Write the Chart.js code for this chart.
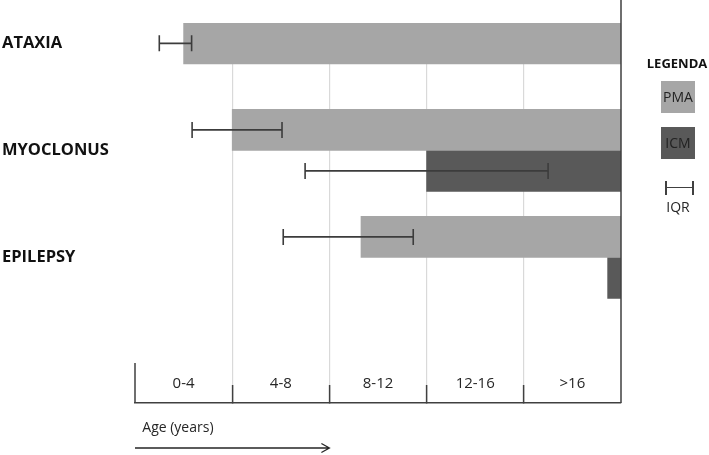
<!doctype html>
<html lang="en">
<head>
<meta charset="utf-8">
<title>Age of onset</title>
<script src="https://cdn.jsdelivr.net/npm/chart.js@4.4.1/dist/chart.umd.min.js"></script>
<style>
  body { margin: 0; background: #fff; font-family: "Open Sans", sans-serif; }
  .wrap { position: relative; width: 709px; height: 455px; overflow: hidden; }
  .lg-title { position: absolute; left: 637px; top: 54px; width: 80px; text-align: center;
              font-weight: bold; font-size: 13px; line-height: 18px; color: #111; }
  #legend-items { position: absolute; left: 661px; top: 81px; display: flex; flex-direction: column; gap: 14px; }
  .lg-box { width: 34px; height: 32px; line-height: 32px; text-align: center; font-size: 14px; color: #222; }
  .lg-iqr { position: absolute; left: 665px; top: 181px; width: 25px; height: 14px;
            border-left: 2px solid #404040; border-right: 2px solid #404040; }
  .lg-iqr::after { content: ""; position: absolute; left: 0; right: 0; top: 6px; border-top: 1.5px solid #404040; }
  .lg-iqr-label { position: absolute; left: 648px; top: 198px; width: 60px; text-align: center;
                  font-size: 14px; line-height: 18px; color: #262626; }
</style>
</head>
<body>
<div class="wrap">
  <canvas id="chart" width="709" height="455"></canvas>
  <div class="lg-title">LEGENDA</div>
  <div id="legend-items"></div>
  <div class="lg-iqr"></div>
  <div class="lg-iqr-label">IQR</div>
</div>

<script>
    // data (years)
    const diseases = ['ATAXIA', 'MYOCLONUS', 'EPILEPSY'];
    const ageBands = ['0-4', '4-8', '8-12', '12-16', '>16'];
    const ageMax = 20;

    const pmaStart = [2.0, 4.0, 9.3];
    const icmStart = [null, 12.0, 19.45];

    const pmaIqrLow = [1.0, 2.35, 6.1];
    const pmaIqrHigh = [2.33, 6.05, 11.45];
    const icmIqrLow = [null, 7.0, null];
    const icmIqrHigh = [null, 17.0, null];

    const font = 'Open Sans';

    function toBars(starts) {
        return starts.map((s, i) => ({ y: i, x: s === null ? null : [s, ageMax] }));
    }

    // IQR whiskers on top of the bars
    const iqrBars = {
        id: 'iqrBars',
        afterDatasetsDraw(chart) {
            const ctx = chart.ctx;
            const xs = chart.scales.x;
            chart.data.datasets.forEach((ds, d) => {
                chart.getDatasetMeta(d).data.forEach((bar, i) => {
                    const lo = ds.iqrLow[i], hi = ds.iqrHigh[i];
                    if (lo == null || hi == null) return;
                    const x1 = xs.getPixelForValue(lo);
                    const x2 = xs.getPixelForValue(hi);
                    const y = bar.y;
                    ctx.save();
                    ctx.strokeStyle = '#3c3c3c';
                    ctx.lineWidth = 1.6;
                    ctx.beginPath();
                    ctx.moveTo(x1, y); ctx.lineTo(x2, y);
                    ctx.moveTo(x1, y - 8); ctx.lineTo(x1, y + 8);
                    ctx.moveTo(x2, y - 8); ctx.lineTo(x2, y + 8);
                    ctx.stroke();
                    ctx.restore();
                });
            });
        }
    };

    // right frame line, left stub and the age arrow
    const frame = {
        id: 'frame',
        afterDraw(chart) {
            const { ctx, chartArea } = chart;
            const xs = chart.scales.x;
            ctx.save();
            ctx.strokeStyle = '#404040';
            ctx.lineWidth = 1.5;
            ctx.beginPath();
            ctx.moveTo(chartArea.right, 0);
            ctx.lineTo(chartArea.right, chartArea.bottom);
            ctx.moveTo(chartArea.left, chartArea.bottom - 40);
            ctx.lineTo(chartArea.left, chartArea.bottom);
            ctx.stroke();

            const ay = chart.height - 7;
            const a0 = xs.getPixelForValue(0);
            const a1 = xs.getPixelForValue(8);
            ctx.strokeStyle = '#262626';
            ctx.lineWidth = 1.3;
            ctx.beginPath();
            ctx.moveTo(a0, ay); ctx.lineTo(a1, ay);
            ctx.moveTo(a1 - 8, ay - 4.5); ctx.lineTo(a1, ay); ctx.lineTo(a1 - 8, ay + 4.5);
            ctx.stroke();
            ctx.restore();
        }
    };

    const chart = new Chart(document.getElementById('chart'), {
        type: 'bar',
        data: {
            datasets: [{
                label: 'PMA',
                data: toBars(pmaStart),
                backgroundColor: '#a6a6a6',
                iqrLow: pmaIqrLow,
                iqrHigh: pmaIqrHigh,
                xAxisID: 'x',
                yAxisID: 'y'
            }, {
                label: 'ICM',
                data: toBars(icmStart),
                backgroundColor: '#595959',
                iqrLow: icmIqrLow,
                iqrHigh: icmIqrHigh,
                xAxisID: 'x',
                yAxisID: 'y'
            }]
        },
        options: {
            indexAxis: 'y',
            responsive: false,
            animation: false,
            barThickness: 41,
            skipNull: true,
            layout: { padding: { top: 23, left: 2, right: 88, bottom: 0 } },
            plugins: {
                legend: { display: false },
                tooltip: { enabled: false }
            },
            scales: {
                x: { type: 'linear', min: 0, max: ageMax, display: false },
                xc: {
                    type: 'category',
                    labels: ageBands,
                    position: 'bottom',
                    offset: true,
                    grid: {
                        offset: true,
                        color: c => c.index > 0 ? '#d9d9d9' : 'transparent',
                        lineWidth: 1.2,
                        tickLength: -18,
                        tickWidth: 1.5,
                        tickColor: c => c.index > 0 ? '#404040' : 'transparent'
                    },
                    border: { color: '#404040', width: 1.5 },
                    ticks: {
                        mirror: true,
                        padding: 10,
                        autoSkip: false,
                        maxRotation: 0,
                        color: '#262626',
                        font: { family: font, size: 15 }
                    },
                    title: {
                        display: true,
                        text: '  Age (years)',
                        align: 'start',
                        color: '#262626',
                        font: { family: font, size: 14 },
                        padding: { top: 14.6, bottom: 18.6 }
                    }
                },
                y: {
                    type: 'linear',
                    reverse: true,
                    offset: false,
                    min: -0.19,
                    max: 3.36,
                    grid: { display: false, offset: false },
                    border: { display: false },
                    afterBuildTicks: s => { s.ticks = diseases.map((_, i) => ({ value: i })); },
                    afterFit: s => { s.width = 133; },
                    ticks: {
                        crossAlign: 'far',
                        color: '#111',
                        font: { family: font, size: 16.5, weight: 'bold' },
                        callback: v => diseases[v]
                    }
                }
            }
        },
        plugins: [iqrBars, frame]
    });

    // legend boxes from the datasets
    const items = document.getElementById('legend-items');
    chart.data.datasets.forEach(ds => {
        const box = document.createElement('div');
        box.className = 'lg-box';
        box.style.background = ds.backgroundColor;
        box.textContent = ds.label;
        items.appendChild(box);
    });
</script>
</body>
</html>
